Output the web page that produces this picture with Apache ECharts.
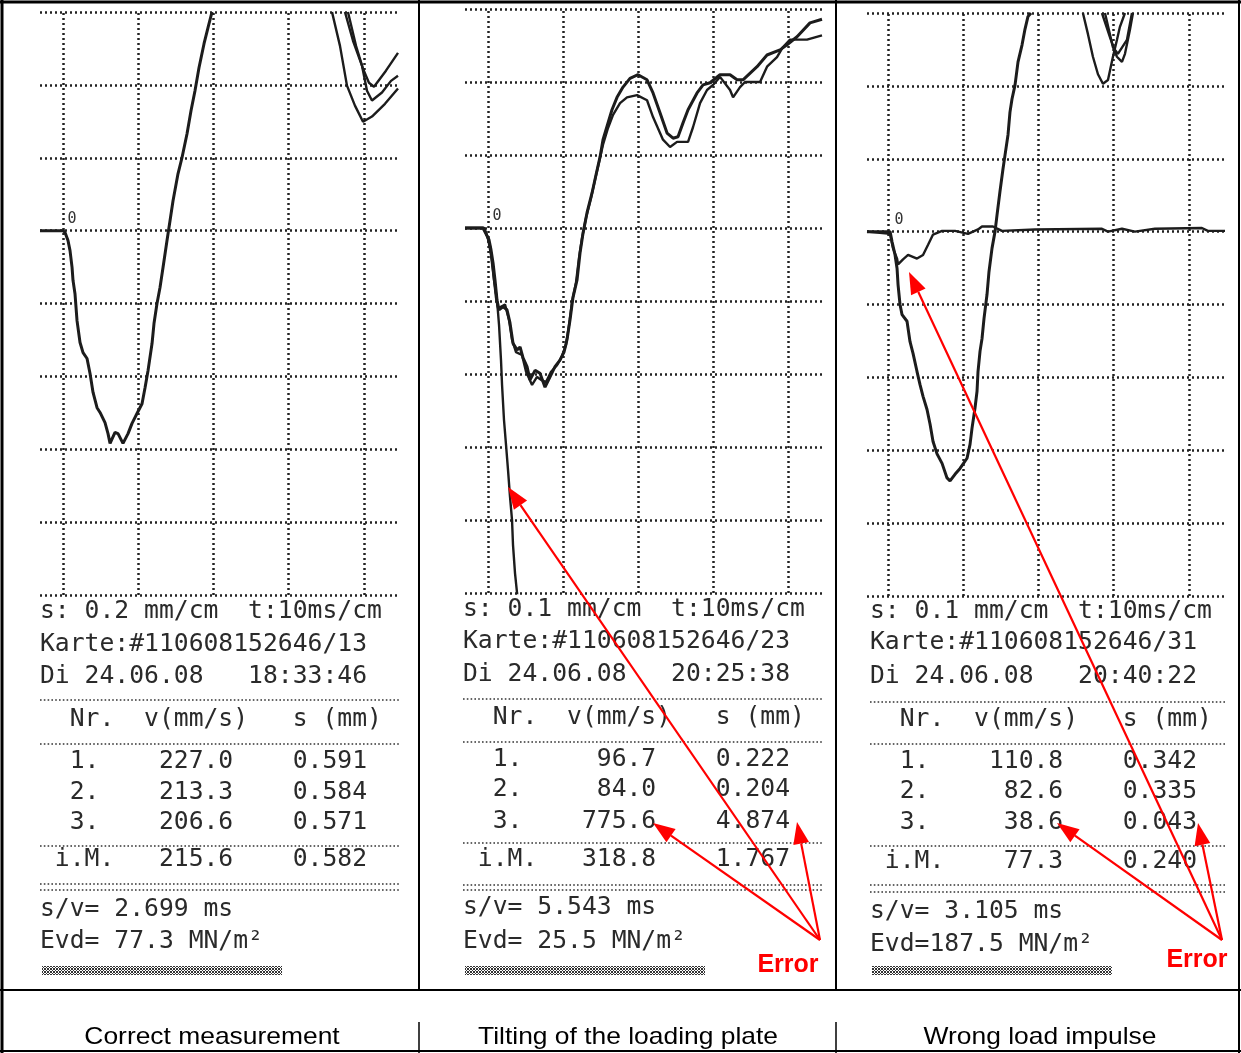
<!DOCTYPE html>
<html><head><meta charset="utf-8">
<script src="https://cdn.jsdelivr.net/npm/echarts@6/dist/echarts.min.js"></script>
<style>html,body{margin:0;padding:0;background:#fff}#c{width:1241px;height:1053px}</style>
</head><body><div id="c"></div><script>
// ---------- DATA ----------
const timeGridTicks = [0, 10, 20, 30, 40];           // ms, vertical grid lines (10 ms/cm)
const captions = ['Correct measurement', 'Tilting of the loading plate', 'Wrong load impulse'];

// Panel 1 (s: 0.2 mm/cm) – [t ms, s mm]
const p1Main = [[-3.06,0],[0,0],[0.27,-0.005],[0.66,-0.027],[0.93,-0.055],[1.2,-0.101],[1.33,-0.137],[1.59,-0.173],[1.86,-0.247],[2.26,-0.307],[2.66,-0.335],[3.19,-0.351],[3.59,-0.392],[3.99,-0.444],[4.52,-0.486],[4.92,-0.499],[5.58,-0.527],[5.98,-0.557],[6.25,-0.584],[6.91,-0.554],[7.31,-0.557],[7.97,-0.584],[8.64,-0.557],[9.17,-0.529],[9.83,-0.502],[10.5,-0.475],[10.9,-0.431],[11.3,-0.384],[11.83,-0.31],[12.09,-0.255],[12.49,-0.2],[12.89,-0.156],[13.29,-0.101],[13.82,-0.027],[14.22,0.027],[14.62,0.082],[15.28,0.156],[15.81,0.2],[16.48,0.266],[17.01,0.329],[17.54,0.384],[18.07,0.447],[18.74,0.513],[19.27,0.557],[19.8,0.6]];
const p1Rebound1 = [[35.75,0.6],[36.81,0.507],[37.74,0.398],[38.8,0.343],[39.87,0.299],[41.06,0.313],[42.79,0.348],[44.52,0.39]];
const p1Rebound2 = [[37.47,0.6],[38.54,0.521],[39.73,0.453],[40.4,0.384],[41.06,0.357],[42.39,0.379],[43.59,0.411],[44.52,0.425]];
const p1Rebound3 = [[37.87,0.6],[38.94,0.507],[39.87,0.444],[40.66,0.406],[41.33,0.395],[42.92,0.439],[44.52,0.488]];

// Panel 2 (s: 0.1 mm/cm)
const p2CurveA = [[-3.07,0],[-0.67,0],[-0.27,-0.008],[0.13,-0.016],[0.4,-0.03],[0.67,-0.048],[0.93,-0.071],[1.2,-0.099],[1.47,-0.112],[2.0,-0.108],[2.53,-0.112],[2.93,-0.13],[3.33,-0.158],[3.87,-0.167],[4.27,-0.163],[4.67,-0.178],[5.2,-0.19],[5.6,-0.208],[6.27,-0.195],[6.93,-0.199],[7.6,-0.218],[8.27,-0.204],[8.93,-0.19],[9.6,-0.181],[10.13,-0.17],[10.53,-0.153],[10.93,-0.126],[11.33,-0.095],[11.87,-0.071],[12.27,-0.034],[12.67,-0.007],[13.2,0.021],[13.87,0.048],[14.4,0.073],[14.93,0.097],[15.33,0.121],[16.0,0.144],[16.53,0.162],[17.2,0.179],[18.0,0.193],[18.93,0.205],[20.0,0.21],[21.2,0.203],[22.0,0.185],[22.93,0.158],[23.87,0.13],[24.67,0.123],[25.33,0.125],[26.0,0.144],[26.67,0.162],[27.87,0.185],[28.67,0.196],[29.6,0.199],[30.93,0.21],[32.27,0.21],[33.2,0.203],[34.0,0.203],[35.87,0.221],[37.2,0.237],[38.93,0.244],[39.87,0.251],[41.2,0.262],[42.93,0.281],[44.53,0.286]];
const p2CurveB = [[-3.07,0],[-0.53,0],[-0.13,-0.011],[0.27,-0.025],[0.53,-0.044],[0.8,-0.071],[1.07,-0.096],[1.33,-0.11],[2.27,-0.105],[2.8,-0.126],[3.2,-0.153],[3.73,-0.17],[4.53,-0.174],[5.07,-0.197],[5.87,-0.215],[6.53,-0.204],[7.07,-0.208],[7.73,-0.211],[8.4,-0.197],[9.2,-0.188],[9.87,-0.175],[10.4,-0.16],[10.8,-0.133],[11.2,-0.101],[11.73,-0.075],[12.13,-0.041],[12.53,-0.014],[13.07,0.014],[13.73,0.041],[14.27,0.066],[14.8,0.09],[15.33,0.114],[16.0,0.137],[16.67,0.155],[17.6,0.171],[18.53,0.179],[19.87,0.182],[21.2,0.175],[22.0,0.152],[23.33,0.121],[24.27,0.111],[25.2,0.118],[26.67,0.118],[27.33,0.138],[28.27,0.171],[29.2,0.189],[30.0,0.196],[30.93,0.207],[32.27,0.189],[32.67,0.179],[33.6,0.193],[34.27,0.2],[36.27,0.2],[37.2,0.221],[38.53,0.234],[39.33,0.248],[40.27,0.258],[42.53,0.258],[44.53,0.264]];
const p2Tilted = [[-3.07,0],[-0.53,0],[0,-0.014],[0.4,-0.037],[0.8,-0.071],[1.2,-0.099],[1.47,-0.133],[1.73,-0.181],[1.87,-0.215],[2.13,-0.263],[2.4,-0.297],[2.67,-0.332],[2.93,-0.368],[3.2,-0.4],[3.33,-0.434],[3.6,-0.473],[3.87,-0.5],[4.0,-0.51]];

// Panel 3 (s: 0.1 mm/cm)
const p3Main = [[-2.8,0],[0.27,0],[0.53,-0.014],[0.93,-0.032],[1.2,-0.051],[1.33,-0.073],[1.59,-0.1],[1.86,-0.114],[2.52,-0.123],[2.92,-0.151],[3.32,-0.167],[3.85,-0.192],[4.25,-0.21],[4.65,-0.226],[5.18,-0.244],[5.58,-0.264],[5.98,-0.288],[6.51,-0.305],[7.18,-0.318],[7.84,-0.338],[8.24,-0.342],[8.9,-0.333],[9.57,-0.325],[10.5,-0.311],[10.9,-0.292],[11.16,-0.27],[11.56,-0.242],[11.83,-0.219],[11.96,-0.192],[12.23,-0.164],[12.49,-0.147],[12.76,-0.119],[13.16,-0.086],[13.42,-0.055],[13.82,-0.023],[14.22,0],[14.49,0.023],[14.88,0.055],[15.28,0.086],[15.55,0.105],[15.95,0.133],[16.21,0.164],[16.48,0.182],[16.88,0.201],[17.28,0.233],[17.81,0.256],[18.21,0.278],[18.6,0.295],[19.0,0.3]];
const p3Impulse = [[-2.8,0],[0.27,-0.003],[0.66,-0.023],[1.2,-0.037],[1.33,-0.045],[1.99,-0.038],[2.66,-0.032],[3.85,-0.037],[4.65,-0.032],[5.32,-0.018],[5.98,-0.004],[7.18,0.001],[8.9,0.001],[10.63,-0.003],[11.96,0.003],[12.49,0.007],[13.95,0.007],[15.15,0.001],[19.53,0.003],[28.44,0.004],[29.24,0],[31.1,0.004],[32.82,0],[35.48,0.004],[41.73,0.005],[42.52,0.001],[44.8,0.001]];
const p3Rebound1 = [[25.91,0.3],[26.58,0.271],[27.24,0.24],[27.91,0.216],[28.57,0.203],[29.24,0.208],[29.9,0.24],[30.43,0.263],[30.83,0.281],[31.5,0.3]];
const p3Rebound2 = [[28.44,0.3],[29.5,0.267],[30.43,0.24],[31.1,0.233],[31.5,0.244],[32.16,0.277],[32.56,0.3]];
const p3Rebound3 = [[28.84,0.3],[29.9,0.253],[30.56,0.244],[31.76,0.263],[32.43,0.3]];

// Printout texts
const scaleTexts = ['s: 0.2 mm/cm  t:10ms/cm', 's: 0.1 mm/cm  t:10ms/cm', 's: 0.1 mm/cm  t:10ms/cm'];
const cardTexts = ['Karte:#110608152646/13', 'Karte:#110608152646/23', 'Karte:#110608152646/31'];
const dateTexts = ['Di 24.06.08   18:33:46', 'Di 24.06.08   20:25:38', 'Di 24.06.08   20:40:22'];
const tableHeader = '  Nr.  v(mm/s)   s (mm)';
const velocities = [['227.0','213.3','206.6'], ['96.7','84.0','775.6'], ['110.8','82.6','38.6']];
const settlements = [['0.591','0.584','0.571'], ['0.222','0.204','4.874'], ['0.342','0.335','0.043']];
const meanV = ['215.6', '318.8', '77.3'];
const meanS = ['0.582', '1.767', '0.240'];
const svTexts = ['2.699', '5.543', '3.105'];
const evdTexts = ['77.3', '25.5', '187.5'];

// ---------- LAYOUT ----------
const grids = [
  {left: 40, top: 12, width: 358, height: 583, xmin: -3.06, xmax: 44.52, ymin: -1.0, ymax: 0.6, yint: 0.2},
  {left: 465, top: 9, width: 357, height: 584, xmin: -3.07, xmax: 44.53, ymin: -0.5, ymax: 0.3, yint: 0.1},
  {left: 867, top: 13, width: 358, height: 583, xmin: -2.8, xmax: 44.8, ymin: -0.5, ymax: 0.3, yint: 0.1}
];
const textX = [40, 463, 870];
const rowY = [
  [612, 645, 677, 720, 762, 793, 823, 860, 910, 942],
  [610, 642, 675, 718, 760, 790, 822, 860, 908, 942],
  [612, 643, 677, 720, 762, 792, 823, 862, 912, 945]
];
const sepY = [[700, 744, 846, 884, 890], [699, 742, 843, 885, 890], [702, 744, 846, 885, 892]];
const sepX = [[40, 400], [463, 822], [870, 1226]];
const zeroLabel = [[72, 219], [497, 216], [899, 220]];

const INK = '#1c1c1c';
const dotted = {color: '#222', width: 2.5, type: [2, 3]};

const chart = echarts.init(document.getElementById('c'), null, {renderer: 'canvas'});

const panelSeries = [
  [p1Main, p1Rebound1, p1Rebound2, p1Rebound3],
  [p2CurveA, p2CurveB, p2Tilted],
  [p3Main, p3Impulse, p3Rebound1, p3Rebound2, p3Rebound3]
];

const series = [];
panelSeries.forEach((list, gi) => {
  list.forEach((d, k) => {
    const s = {
      type: 'line', xAxisIndex: gi, yAxisIndex: gi, data: d,
      showSymbol: false, symbol: 'none', silent: true, animation: false,
      lineStyle: {color: INK, width: (k === 0 ? 3 : 2.4)},
      emphasis: {disabled: true}, clip: true, z: 5
    };
    if (k === 0) {
      s.markLine = {
        silent: true, symbol: ['none', 'none'], animation: false,
        label: {show: false}, lineStyle: dotted, emphasis: {disabled: true},
        data: timeGridTicks.map(t => ({xAxis: t}))
      };
    }
    series.push(s);
  });
});

// hatched pattern
const pat = document.createElement('canvas');
pat.width = 3; pat.height = 3;
(function () {
  const c = pat.getContext('2d');
  c.fillStyle = '#fff'; c.fillRect(0, 0, 3, 3);
  c.fillStyle = '#333';
  c.fillRect(0, 0, 1, 1); c.fillRect(2, 0, 1, 1); c.fillRect(1, 1, 1, 1); c.fillRect(0, 2, 1, 1); c.fillRect(2, 2, 1, 1);
})();

const MONO = '24.7px "DejaVu Sans Mono", "Liberation Mono", monospace';
const graphic = [];
function txt(x, y, text, font, fill, align, extra) {
  graphic.push(Object.assign({
    type: 'text', x: x, y: y, silent: true, z: 20,
    style: {text: text, font: font, fill: fill, textAlign: align || 'left', textVerticalAlign: 'middle'}
  }, extra || {}));
}
function line(x1, y1, x2, y2, stroke, w, dash) {
  graphic.push({type: 'line', silent: true, z: 15,
    shape: {x1: x1, y1: y1, x2: x2, y2: y2},
    style: {stroke: stroke, lineWidth: w, lineDash: dash || null}});
}
function pad(s, n) { while (s.length < n) s = ' ' + s; return s; }

for (let p = 0; p < 3; p++) {
  const x = textX[p], ys = rowY[p];
  txt(zeroLabel[p][0], zeroLabel[p][1], '0', '15px "DejaVu Sans Mono", monospace', '#333', 'center');
  txt(x, ys[0], scaleTexts[p], MONO, '#2a2a2a');
  txt(x, ys[1], cardTexts[p], MONO, '#2a2a2a');
  txt(x, ys[2], dateTexts[p], MONO, '#2a2a2a');
  txt(x, ys[3], tableHeader, MONO, '#2a2a2a');
  for (let r = 0; r < 3; r++) {
    txt(x, ys[4 + r], '  ' + (r + 1) + '.    ' + pad(velocities[p][r], 5) + '    ' + settlements[p][r], MONO, '#2a2a2a');
  }
  txt(x, ys[7], ' i.M.   ' + pad(meanV[p], 5) + '    ' + meanS[p], MONO, '#2a2a2a');
  txt(x, ys[8], 's/v= ' + svTexts[p] + ' ms', MONO, '#2a2a2a');
  txt(x, ys[9], 'Evd=' + pad(evdTexts[p], 5) + ' MN/m²', MONO, '#2a2a2a');
  sepY[p].forEach(y => line(sepX[p][0], y, sepX[p][1], y, '#333', 1.6, [1.6, 2.2]));
  graphic.push({type: 'rect', silent: true, z: 15,
    shape: {x: x + 2, y: 966, width: 240, height: 9},
    style: {fill: {image: pat, repeat: 'repeat'}}});
}

// frame
line(0, 2, 1241, 2, '#000', 3);
line(2, 0, 2, 1053, '#000', 3);
line(1239, 0, 1239, 1053, '#000', 2);
line(419, 0, 419, 990, '#000', 2);
line(836, 0, 836, 990, '#000', 2);
line(0, 990, 1241, 990, '#000', 2);
line(0, 1051, 1241, 1051, '#000', 2);
line(419, 1022, 419, 1053, '#000', 1.5);
line(836, 1022, 836, 1053, '#000', 1.5);

// captions
const capX = [212, 628, 1040];
captions.forEach((c, i) => txt(capX[i], 1037, c, '24px "Liberation Sans", Arial, sans-serif', '#000', 'center', {scaleX: 1.1, originX: 0, originY: 0}));

// error labels
txt(788, 965, 'Error', 'bold 25px "Liberation Sans", Arial, sans-serif', '#ff0000', 'center');
txt(1197, 960, 'Error', 'bold 25px "Liberation Sans", Arial, sans-serif', '#ff0000', 'center');

// arrows (annotations)
function arrow(sx, sy, tx, ty) {
  const dx = tx - sx, dy = ty - sy, len = Math.sqrt(dx * dx + dy * dy);
  const ux = dx / len, uy = dy / len, L = 22, W = 8;
  const bx = tx - ux * L, by = ty - uy * L;
  graphic.push({type: 'line', silent: true, z: 30, shape: {x1: sx, y1: sy, x2: bx, y2: by},
    style: {stroke: '#ff0000', lineWidth: 2.2}});
  graphic.push({type: 'polygon', silent: true, z: 30,
    shape: {points: [[tx, ty], [bx - uy * W, by + ux * W], [bx + uy * W, by - ux * W]]},
    style: {fill: '#ff0000'}});
}
arrow(820, 940, 508, 487);
arrow(820, 940, 653, 823);
arrow(820, 940, 797, 822);
arrow(1222, 940, 909, 272);
arrow(1222, 940, 1057, 823);
arrow(1222, 940, 1198, 823);

const hidden = {show: false};
chart.setOption({
  animation: false,
  backgroundColor: '#fff',
  grid: grids.map(g => ({left: g.left, top: g.top, width: g.width, height: g.height, containLabel: false})),
  xAxis: grids.map((g, i) => ({gridIndex: i, type: 'value', min: g.xmin, max: g.xmax,
    axisLine: hidden, axisTick: hidden, axisLabel: hidden, splitLine: hidden})),
  yAxis: grids.map((g, i) => ({gridIndex: i, type: 'value', min: g.ymin, max: g.ymax, interval: g.yint,
    axisLine: hidden, axisTick: hidden, axisLabel: hidden,
    splitLine: {show: true, lineStyle: dotted}})),
  series: series,
  graphic: graphic
});
</script></body></html>
